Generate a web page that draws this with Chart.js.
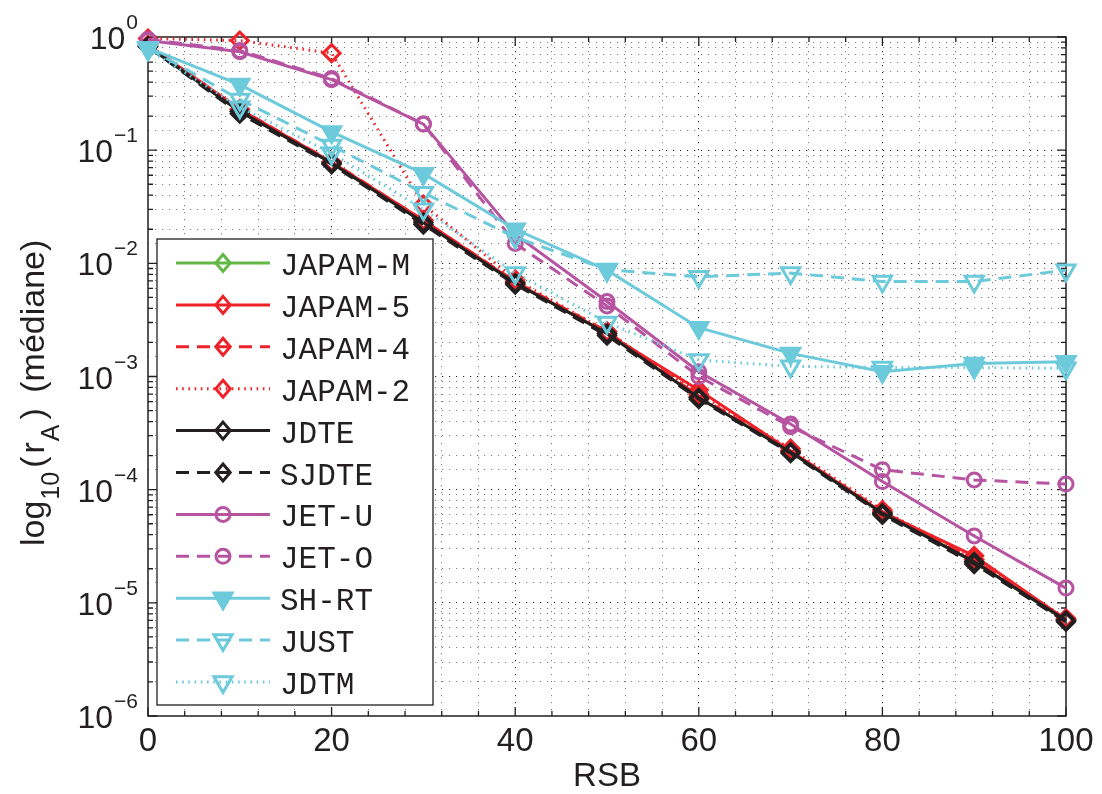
<!DOCTYPE html>
<html>
<head>
<meta charset="utf-8">
<script src="https://cdn.jsdelivr.net/npm/chart.js@4.4.1/dist/chart.umd.min.js"></script>
<style>
  html, body { margin: 0; padding: 0; background: #ffffff; }
  #wrap { width: 1102px; height: 794px; }
</style>
</head>
<body>
<div id="wrap"><canvas id="c" width="1102" height="794"></canvas></div>
<script>
// ---- data ----
const rsb = [0, 10, 20, 30, 40, 50, 60, 70, 80, 90, 100];
const xTickLabels = ['0', '20', '40', '60', '80', '100'];
const yTickExponents = ['0', '\u22121', '\u22122', '\u22123', '\u22124', '\u22125', '\u22126'];

const japamM = [0.83, 0.22, 0.077, 0.023, 0.0067, 0.0024, 6.5e-4, 2.15e-4, 6.2e-5, 2.3e-5, 7.0e-6];
const japam5 = [0.85, 0.23, 0.078, 0.024, 0.0068, 0.0024, 7.6e-4, 2.2e-4, 6.3e-5, 2.6e-5, 7.1e-6];
const japam4 = [0.85, 0.23, 0.079, 0.024, 0.0069, 0.0025, 6.7e-4, 2.2e-4, 6.4e-5, 2.4e-5, 7.1e-6];
const japam2 = [0.97, 0.93, 0.72, 0.033, 0.0072, 0.0025, 7.0e-4, 2.3e-4, 6.6e-5, 2.4e-5, 7.3e-6];
const jdte   = [0.83, 0.22, 0.077, 0.023, 0.0067, 0.0024, 6.5e-4, 2.15e-4, 6.2e-5, 2.3e-5, 7.0e-6];
const sjdte  = [0.82, 0.21, 0.075, 0.022, 0.0065, 0.0023, 6.3e-4, 2.1e-4, 6.0e-5, 2.2e-5, 6.8e-6];
const jetU   = [0.93, 0.74, 0.42, 0.17, 0.018, 0.0046, 1.1e-3, 3.8e-4, 1.18e-4, 3.9e-5, 1.35e-5];
const jetO   = [0.95, 0.76, 0.43, 0.17, 0.015, 0.0042, 1.0e-3, 3.6e-4, 1.5e-4, 1.22e-4, 1.12e-4];
const shrt   = [0.80, 0.38, 0.145, 0.062, 0.020, 0.0087, 0.0027, 0.0016, 0.0011, 0.0013, 0.00135];
const just   = [0.80, 0.28, 0.11, 0.042, 0.017, 0.0088, 0.0076, 0.0082, 0.0069, 0.0069, 0.0087];
const jdtm   = [0.78, 0.24, 0.094, 0.030, 0.0082, 0.0030, 0.0014, 0.00123, 0.0012, 0.0012, 0.00118];

const seriesNames = ['JAPAM-M', 'JAPAM-5', 'JAPAM-4', 'JAPAM-2', 'JDTE', 'SJDTE', 'JET-U', 'JET-O', 'SH-RT', 'JUST', 'JDTM'];
const seriesValues = [japamM, japam5, japam4, japam2, jdte, sjdte, jetU, jetO, shrt, just, jdtm];

// ---- styles ----
const GREEN = '#62b946', RED = '#ee2229', BLACK = '#231f20', MAG = '#b654a2', CYAN = '#6ccadb';
const DASH = [13, 8], DOT = [1.6, 4.6], SOLID = [];
const styles = [
  { c: GREEN, d: SOLID, m: 'diamond', f: false },
  { c: RED,   d: SOLID, m: 'diamond', f: false },
  { c: RED,   d: DASH,  m: 'diamond', f: false },
  { c: RED,   d: DOT,   m: 'diamond', f: false },
  { c: BLACK, d: SOLID, m: 'diamond', f: false },
  { c: BLACK, d: DASH,  m: 'diamond', f: false },
  { c: MAG,   d: SOLID, m: 'circle',  f: false },
  { c: MAG,   d: DASH,  m: 'circle',  f: false },
  { c: CYAN,  d: SOLID, m: 'tri',     f: true  },
  { c: CYAN,  d: DASH,  m: 'tri',     f: false },
  { c: CYAN,  d: DOT,   m: 'tri',     f: false }
];

const N = seriesNames.length;
const datasets = seriesNames.map((name, i) => {
  const s = styles[i];
  const ps = s.m === 'diamond' ? 'rectRot' : (s.m === 'circle' ? 'circle' : 'triangle');
  return {
    label: name,
    data: rsb.map((x, k) => ({ x: x, y: seriesValues[i][k] })),
    borderColor: s.c,
    borderWidth: 3,
    borderDash: s.d,
    borderCapStyle: 'butt',
    tension: 0,
    fill: false,
    clip: false,
    order: N - i,
    pointStyle: ps,
    pointRotation: s.m === 'tri' ? 180 : 0,
    pointRadius: s.m === 'diamond' ? 8.5 : (s.m === 'circle' ? 7 : 10.5),
    pointBorderWidth: 3,
    pointBorderColor: s.c,
    pointBackgroundColor: s.f ? s.c : 'rgba(0,0,0,0)',
    _sty: s
  };
});

function isDecade(v) {
  const l = Math.log10(v);
  return Math.abs(l - Math.round(l)) < 1e-9;
}

function drawMarker(ctx, m, x, y, color, filled) {
  ctx.save();
  ctx.setLineDash([]);
  ctx.lineWidth = 3;
  ctx.strokeStyle = color;
  ctx.fillStyle = color;
  ctx.beginPath();
  if (m === 'diamond') {
    const r = 8.5;
    ctx.moveTo(x, y - r); ctx.lineTo(x + r * 0.85, y); ctx.lineTo(x, y + r); ctx.lineTo(x - r * 0.85, y); ctx.closePath();
  } else if (m === 'circle') {
    ctx.arc(x, y, 7, 0, Math.PI * 2);
  } else {
    const r = 10.5;
    ctx.moveTo(x, y + r);
    ctx.lineTo(x + r * Math.sin(Math.PI * 2 / 3), y - r * 0.5);
    ctx.lineTo(x - r * Math.sin(Math.PI * 2 / 3), y - r * 0.5);
    ctx.closePath();
  }
  if (filled) ctx.fill();
  ctx.stroke();
  ctx.restore();
}

const frame = {
  id: 'frame',
  beforeDatasetsDraw(chart) {
    const { ctx, chartArea: a, scales } = chart;
    ctx.save();
    ctx.strokeStyle = BLACK;
    ctx.lineWidth = 1.3;
    ctx.setLineDash([]);
    // inward ticks on x (bottom & top)
    ctx.beginPath();
    for (let v = 0; v <= 100; v += 4) {
      const px = scales.x.getPixelForValue(v);
      const len = (v % 20 === 0) ? 9 : 5;
      ctx.moveTo(px, a.bottom); ctx.lineTo(px, a.bottom - len);
      ctx.moveTo(px, a.top); ctx.lineTo(px, a.top + len);
    }
    // inward ticks on y (left & right)
    for (let e = -6; e <= 0; e++) {
      for (let s = 1; s <= 9; s++) {
        const v = s * Math.pow(10, e);
        if (v > 1.0000001) break;
        const py = scales.y.getPixelForValue(v);
        const len = s === 1 ? 9 : 5;
        ctx.moveTo(a.left, py); ctx.lineTo(a.left + len, py);
        ctx.moveTo(a.right, py); ctx.lineTo(a.right - len, py);
      }
    }
    ctx.stroke();
    ctx.lineWidth = 1.5;
    ctx.strokeRect(a.left, a.top, a.right - a.left, a.bottom - a.top);

    // x tick labels
    ctx.fillStyle = BLACK;
    ctx.font = '33px "Liberation Sans", Arial, sans-serif';
    ctx.textAlign = 'center';
    ctx.textBaseline = 'alphabetic';
    xTickLabels.forEach(t => {
      ctx.fillText(t, scales.x.getPixelForValue(Number(t)), 751);
    });
    // x title
    ctx.fillText('RSB', (a.left + a.right) / 2, 786);

    // y tick labels 10^e
    yTickExponents.forEach((ex, k) => {
      const v = Math.pow(10, -k);
      const py = scales.y.getPixelForValue(v);
      ctx.textAlign = 'right';
      ctx.font = '21px "Liberation Sans", Arial, sans-serif';
      const ew = ctx.measureText(ex).width;
      ctx.fillText(ex, a.left - 10, py - 8);
      ctx.font = '32px "Liberation Sans", Arial, sans-serif';
      ctx.fillText('10', a.left - 10 - ew - 1, py + 12);
    });

    // y title: log10(rA) (médiane)
    ctx.save();
    ctx.translate(44, 546);
    ctx.rotate(-Math.PI / 2);
    ctx.textAlign = 'left';
    const big = '34px "Liberation Sans", Arial, sans-serif';
    const small = '25px "Liberation Sans", Arial, sans-serif';
    const parts = [
      ['log', big, 0, 1], ['10', small, 15, 4], ['(', big, 0, 3], ['r', big, 0, 1], ['A', small, 15, 5],
      [')', big, 0, 4], [' ', big, 0, 2], ['(médiane)', big, 0, 0]
    ];
    let xx = 0;
    parts.forEach(p => {
      ctx.font = p[1];
      ctx.fillText(p[0], xx, p[2]);
      xx += ctx.measureText(p[0]).width + p[3];
    });
    ctx.restore();
    ctx.restore();
  },
  afterDraw(chart) {
    const { ctx } = chart;
    // legend box
    const L = 157, T = 239, R = 433, B = 705;
    ctx.save();
    ctx.fillStyle = '#ffffff';
    ctx.fillRect(L, T, R - L, B - T);
    ctx.strokeStyle = BLACK;
    ctx.lineWidth = 1.3;
    ctx.setLineDash([]);
    ctx.strokeRect(L, T, R - L, B - T);
    chart.data.datasets.forEach((ds, i) => {
      const s = ds._sty;
      const y = 263 + i * 41.9;
      ctx.save();
      ctx.strokeStyle = s.c;
      ctx.lineWidth = 3;
      ctx.lineCap = 'butt';
      ctx.setLineDash(s.d);
      ctx.beginPath();
      ctx.moveTo(176, y); ctx.lineTo(270, y);
      ctx.stroke();
      ctx.restore();
      drawMarker(ctx, s.m, 223, y, s.c, s.f);
      ctx.fillStyle = BLACK;
      ctx.font = '31px "Liberation Mono", "DejaVu Sans Mono", monospace';
      ctx.textAlign = 'left';
      ctx.textBaseline = 'alphabetic';
      ctx.fillText(ds.label, 280, y + 12);
    });
    ctx.restore();
  }
};

new Chart(document.getElementById('c'), {
  type: 'line',
  data: { datasets: datasets },
  options: {
    responsive: false,
    animation: false,
    events: [],
    layout: { padding: { left: 148, right: 36, top: 37, bottom: 78 } },
    plugins: { legend: { display: false }, tooltip: { enabled: false } },
    scales: {
      x: {
        type: 'linear', min: 0, max: 100,
        ticks: { display: false, stepSize: 4, autoSkip: false },
        grid: {
          drawTicks: false,
          lineWidth: 1,
          color: c => {
            const v = c.tick ? c.tick.value : null;
            if (v === 0 || v === 100) return 'rgba(0,0,0,0)';
            return (v % 20 === 0) ? 'rgba(0,0,0,0.85)' : 'rgba(0,0,0,0.5)';
          }
        },
        border: { display: false, dash: [1.2, 5.8] }
      },
      y: {
        type: 'logarithmic', min: 1e-6, max: 1,
        ticks: { display: false, autoSkip: false },
        grid: {
          drawTicks: false,
          lineWidth: 1,
          color: c => {
            const v = c.tick ? c.tick.value : null;
            if (v == null) return 'rgba(0,0,0,0)';
            if (Math.abs(v - 1) < 1e-12 || Math.abs(v - 1e-6) < 1e-18) return 'rgba(0,0,0,0)';
            return isDecade(v) ? 'rgba(0,0,0,0.85)' : 'rgba(0,0,0,0.5)';
          }
        },
        border: { display: false, dash: [1.2, 5.8] }
      }
    }
  },
  plugins: [frame]
});
</script>
</body>
</html>
